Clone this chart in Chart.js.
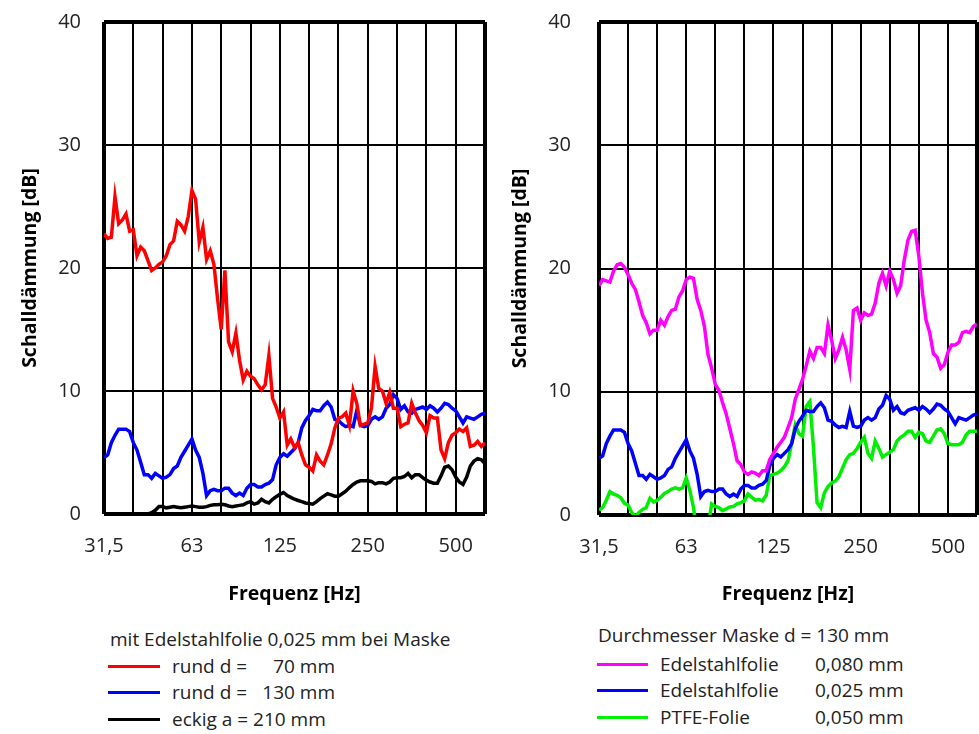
<!DOCTYPE html>
<html>
<head>
<meta charset="utf-8">
<script src="https://cdn.jsdelivr.net/npm/chart.js@4.4.1/dist/chart.umd.min.js"></script>
<style>
  body { margin:0; background:#fff; width:979px; height:734px; position:relative; overflow:hidden;
         font-family:"Open Sans", "Noto Sans", sans-serif; color:#222; }
  canvas { position:absolute; top:0; }
  .leg { position:absolute; font-size:19px; line-height:19px; white-space:pre; }
  .leg .ttl { position:absolute; left:0; }
  .leg .row { position:absolute; left:0; height:19px; }
  .leg .smp { position:absolute; top:8px; height:3px; }
  .leg .txt { position:absolute; top:0; }
</style>
</head>
<body>
<canvas id="cLeft" width="489" height="610" style="left:0"></canvas>
<canvas id="cRight" width="489" height="610" style="left:490px"></canvas>

<div class="leg" style="left:110px; top:630px;">
  <div class="ttl" style="top:0">mit Edelstahlfolie 0,025 mm bei Maske</div>
  <div class="row" style="top:27px"><div class="smp" style="left:-2px;width:52px;background:#ff0000"></div><div class="txt" style="left:62px">rund d =</div><div class="txt" style="left:62px;width:163px;text-align:right">70 mm</div></div>
  <div class="row" style="top:53px"><div class="smp" style="left:-2px;width:52px;background:#0000ff"></div><div class="txt" style="left:62px">rund d =</div><div class="txt" style="left:62px;width:163px;text-align:right">130 mm</div></div>
  <div class="row" style="top:80px"><div class="smp" style="left:-2px;width:52px;background:#000000"></div><div class="txt" style="left:62px">eckig a = 210 mm</div></div>
</div>

<div class="leg" style="left:598px; top:626px;">
  <div class="ttl" style="top:0">Durchmesser Maske d = 130 mm</div>
  <div class="row" style="top:29px"><div class="smp" style="left:-1px;width:51px;background:#ff00ff"></div><div class="txt" style="left:62px">Edelstahlfolie</div><div class="txt" style="left:217px">0,080 mm</div></div>
  <div class="row" style="top:55px"><div class="smp" style="left:-1px;width:51px;background:#0000ff"></div><div class="txt" style="left:62px">Edelstahlfolie</div><div class="txt" style="left:217px">0,025 mm</div></div>
  <div class="row" style="top:82px"><div class="smp" style="left:-1px;width:51px;background:#00ee00"></div><div class="txt" style="left:62px">PTFE-Folie</div><div class="txt" style="left:217px">0,050 mm</div></div>
</div>

<script>
// Frequenzpunkte (1/24 Oktave) in Hz
const freqs = [31.62, 32.55, 33.50, 34.47, 35.48, 36.52, 37.58, 38.68, 39.81, 40.97,
  42.17, 43.40, 44.67, 45.97, 47.32, 48.70, 50.12, 51.58, 53.09, 54.64,
  56.23, 57.88, 59.57, 61.31, 63.10, 64.94, 66.83, 68.79, 70.79, 72.86,
  74.99, 77.18, 79.43, 81.75, 84.14, 86.60, 89.13, 91.73, 94.41, 97.16,
  100.0, 102.9, 105.9, 109.0, 112.2, 115.5, 118.9, 122.3, 125.9, 129.6,
  133.4, 137.2, 141.3, 145.4, 149.6, 154.0, 158.5, 163.1, 167.9, 172.8,
  177.8, 183.0, 188.4, 193.9, 199.5, 205.4, 211.3, 217.5, 223.9, 230.4,
  237.1, 244.1, 251.2, 258.5, 266.1, 273.8, 281.8, 290.1, 298.5, 307.2,
  316.2, 325.5, 335.0, 344.7, 354.8, 365.2, 375.8, 386.8, 398.1, 409.7,
  421.7, 434.0, 446.7, 459.7, 473.2, 487.0, 501.2, 515.8, 530.9, 546.4,
  562.3, 578.8, 595.7, 613.1, 631.0];

// Terzbaender fuer Gitterlinien und Beschriftung
const bandFreqs = [31.62, 39.81, 50.12, 63.10, 79.43, 100.0, 125.9, 158.5, 199.5, 251.2, 316.2, 398.1, 501.2, 631.0];
const bandLabels = ['31,5', '', '', '63', '', '', '125', '', '', '250', '', '', '500', ''];
const yTicks = [0, 10, 20, 30, 40];

// links: rund d = 70 mm
const rund70 = [22.8, 22.4, 22.5, 25.8, 23.6, 23.9, 24.4, 23.0, 23.1, 21.0,
  21.7, 21.4, 20.6, 19.8, 20.0, 20.3, 20.5, 21.0, 21.9, 22.2,
  23.8, 23.5, 23.0, 24.2, 26.3, 25.6, 22.1, 23.3, 20.7, 21.4,
  20.3, 17.5, 15.0, 19.8, 14.0, 13.2, 14.7, 12.5, 10.9, 11.6,
  11.2, 11.0, 10.5, 10.1, 10.5, 12.9, 9.4, 8.7, 7.8, 8.3,
  5.6, 6.1, 5.4, 5.8, 4.8, 4.0, 3.8, 3.5, 4.8, 4.3,
  4.0, 4.8, 5.7, 7.0, 7.8, 7.9, 8.2, 7.2, 10.0, 9.0,
  7.2, 7.3, 7.4, 8.6, 12.0, 10.2, 10.0, 9.0, 9.9, 8.6,
  8.6, 7.1, 7.3, 7.4, 9.0, 8.2, 7.6, 7.2, 6.6, 8.0,
  7.8, 7.8, 5.2, 4.5, 5.8, 6.4, 6.6, 6.9, 6.7, 7.0,
  5.5, 5.6, 5.9, 5.5, 5.8];

// rund d = 130 mm, Edelstahlfolie 0,025 mm (in beiden Diagrammen)
const rund130 = [4.6, 4.8, 5.8, 6.4, 6.9, 6.9, 6.9, 6.7, 5.8, 5.2,
  4.2, 3.2, 3.2, 2.9, 3.3, 3.1, 2.9, 3.0, 3.2, 3.7,
  3.9, 4.6, 5.1, 5.6, 6.1, 5.2, 4.6, 3.3, 1.5, 1.9,
  2.0, 1.9, 1.9, 2.1, 2.1, 1.7, 1.5, 1.7, 1.5, 2.1,
  2.4, 2.4, 2.2, 2.2, 2.4, 2.5, 2.8, 4.0, 4.6, 4.9,
  4.7, 5.0, 5.3, 5.8, 7.0, 7.6, 8.0, 8.5, 8.4, 8.4,
  8.8, 9.1, 8.7, 7.7, 7.6, 7.3, 7.1, 7.2, 7.1, 8.4,
  7.2, 7.1, 7.2, 7.7, 7.9, 7.7, 7.9, 8.6, 8.9, 9.7,
  9.4, 8.5, 8.8, 8.3, 8.2, 8.5, 8.6, 8.7, 8.5, 8.8,
  8.6, 8.3, 8.6, 9.0, 8.9, 8.6, 8.4, 7.9, 7.4, 7.9,
  7.8, 7.7, 7.9, 8.1, 8.2];

// eckig a = 210 mm
const eckig210 = [0, 0, 0, 0, 0, 0, 0, 0, 0, 0,
  0, 0, 0, 0.1, 0.3, 0.6, 0.6, 0.5, 0.55, 0.6,
  0.55, 0.5, 0.55, 0.6, 0.65, 0.6, 0.55, 0.55, 0.6, 0.7,
  0.75, 0.75, 0.8, 0.75, 0.65, 0.6, 0.65, 0.7, 0.75, 0.9,
  1.0, 0.8, 0.9, 1.2, 1.0, 0.9, 1.2, 1.4, 1.6, 1.75,
  1.5, 1.35, 1.2, 1.1, 1.0, 0.9, 0.85, 0.8, 1.0, 1.25,
  1.45, 1.65, 1.55, 1.45, 1.45, 1.65, 1.85, 2.15, 2.4, 2.6,
  2.7, 2.7, 2.7, 2.65, 2.45, 2.55, 2.55, 2.45, 2.6, 2.9,
  2.95, 2.95, 3.05, 3.3, 2.95, 3.2, 3.2, 2.95, 2.75, 2.6,
  2.5, 2.5, 3.1, 3.8, 3.9, 3.6, 3.0, 2.6, 2.4, 3.0,
  3.9, 4.3, 4.5, 4.4, 4.1];

// rechts: Edelstahlfolie 0,080 mm
const edel080 = [18.6, 19.1, 19.0, 18.9, 19.8, 20.3, 20.4, 20.1, 19.5, 18.8,
  18.3, 17.3, 16.2, 15.6, 14.7, 15.0, 15.0, 15.8, 15.4, 16.1,
  16.6, 16.7, 17.7, 18.2, 19.1, 19.3, 19.2, 17.5, 16.6, 15.3,
  13.0, 11.9, 10.6, 10.1, 9.1, 8.2, 7.0, 5.8, 4.4, 4.1,
  3.5, 3.3, 3.5, 3.4, 3.2, 3.6, 3.6, 4.5, 5.0, 5.5,
  5.9, 6.3, 7.1, 7.9, 9.4, 10.2, 11.0, 12.1, 13.3, 12.7,
  13.6, 13.6, 13.1, 15.4, 14.2, 12.7, 13.4, 14.4, 13.4, 11.8,
  16.6, 16.8, 15.8, 16.4, 16.2, 16.3, 17.2, 18.8, 19.6, 18.6,
  19.8, 19.1, 18.0, 18.6, 20.7, 22.3, 23.0, 23.1, 21.0, 18.0,
  15.8, 14.8, 13.1, 12.8, 11.9, 12.2, 13.2, 13.8, 13.8, 14.0,
  14.8, 14.9, 14.8, 15.3, 15.5];

// PTFE-Folie 0,050 mm
const ptfe050 = [0.4, 0.6, 1.2, 1.9, 1.7, 1.6, 1.4, 0.95, 0.8, 0.2,
  -0.1, 0.2, 0.45, 0.6, 1.35, 1.05, 1.2, 1.45, 1.75, 1.9,
  2.1, 2.2, 2.1, 2.2, 3.0, 2.0, 0.6, -1.5, -2.5, -2.5,
  -1.0, 0.9, 0.7, 0.6, 0.35, 0.5, 0.65, 0.7, 0.9, 1.0,
  1.15, 1.7, 1.45, 1.2, 1.25, 1.15, 1.6, 3.2, 3.3, 3.4,
  3.6, 3.9, 4.4, 5.8, 7.3, 6.6, 6.4, 8.8, 9.2, 5.5,
  1.0, 0.6, 1.8, 2.3, 2.6, 2.75, 3.1, 3.8, 4.5, 4.9,
  5.0, 5.4, 5.9, 6.3, 5.0, 4.6, 6.0, 5.4, 4.7, 4.9,
  5.1, 5.3, 6.0, 6.3, 6.5, 6.8, 6.8, 6.3, 6.7, 6.6,
  6.0, 5.9, 6.4, 6.9, 7.0, 6.6, 5.8, 5.7, 5.7, 5.7,
  5.9, 6.5, 6.8, 6.8, 6.8];

function pts(vals) {
  return vals.map((v, i) => ({ x: freqs[i], y: v }));
}

function line(label, vals, color) {
  return { label: label, data: pts(vals), borderColor: color, borderWidth: 3.5,
           pointRadius: 0, tension: 0, fill: false, clip: 0 };
}

// feste Plotflaeche: Achsbreite/-hoehe und Label-Ueberstand fest vorgeben
function makeChart(id, datasets, yWidth, padRight, padTop, xHeight) {
  const fontTick = { family: '"Open Sans", sans-serif', size: 20 };
  const fontTitle = { family: '"Open Sans", sans-serif', size: 19.5, weight: 'bold' };
  return new Chart(document.getElementById(id), {
    type: 'line',
    data: { datasets: datasets },
    options: {
      responsive: false,
      animation: false,
      layout: { padding: { top: padTop, right: padRight, left: 0, bottom: 0 } },
      plugins: { legend: { display: false }, tooltip: { enabled: false } },
      scales: {
        x: {
          type: 'logarithmic',
          min: bandFreqs[0],
          max: bandFreqs[bandFreqs.length - 1],
          afterBuildTicks: (axis) => { axis.ticks = bandFreqs.map(v => ({ value: v })); },
          afterFit: (s) => { s.height = xHeight; s.paddingLeft = 0; s.paddingRight = 0; },
          grid: { color: '#000', drawTicks: false,
                  lineWidth: (c) => (c.index === 0 || c.index === bandFreqs.length - 1) ? 4 : 2 },
          border: { display: false },
          ticks: { autoSkip: false, maxRotation: 0, padding: 20, color: '#222', font: fontTick,
                   callback: (v, i) => bandLabels[i] },
          title: { display: true, text: 'Frequenz [Hz]', color: '#000', font: fontTitle,
                   padding: { top: 0, bottom: 4 } }
        },
        y: {
          min: 0, max: 40,
          afterBuildTicks: (axis) => { axis.ticks = yTicks.map(v => ({ value: v })); },
          afterFit: (s) => { s.width = yWidth; s.paddingTop = 0; s.paddingBottom = 0; },
          grid: { color: '#000', drawTicks: false,
                  lineWidth: (c) => (c.index === 0 || c.index === yTicks.length - 1) ? 4 : 2 },
          border: { display: false },
          ticks: { padding: yWidth - 81, color: '#222', font: fontTick },
          title: { display: true, text: 'Schalldämmung [dB]', color: '#000', font: fontTitle,
                   padding: { top: 19, bottom: 0 } }
        }
      }
    }
  });
}

makeChart('cLeft', [
  line('rund d = 70 mm', rund70, '#ff0000'),
  line('rund d = 130 mm', rund130, '#0000ff'),
  line('eckig a = 210 mm', eckig210, '#000000')
], 104, 4, 22, 96);

makeChart('cRight', [
  line('Edelstahlfolie 0,080 mm', edel080, '#ff00ff'),
  line('Edelstahlfolie 0,025 mm', rund130, '#0000ff'),
  line('PTFE-Folie 0,050 mm', ptfe050, '#00ee00')
], 109, 2, 22, 95);
</script>
</body>
</html>
